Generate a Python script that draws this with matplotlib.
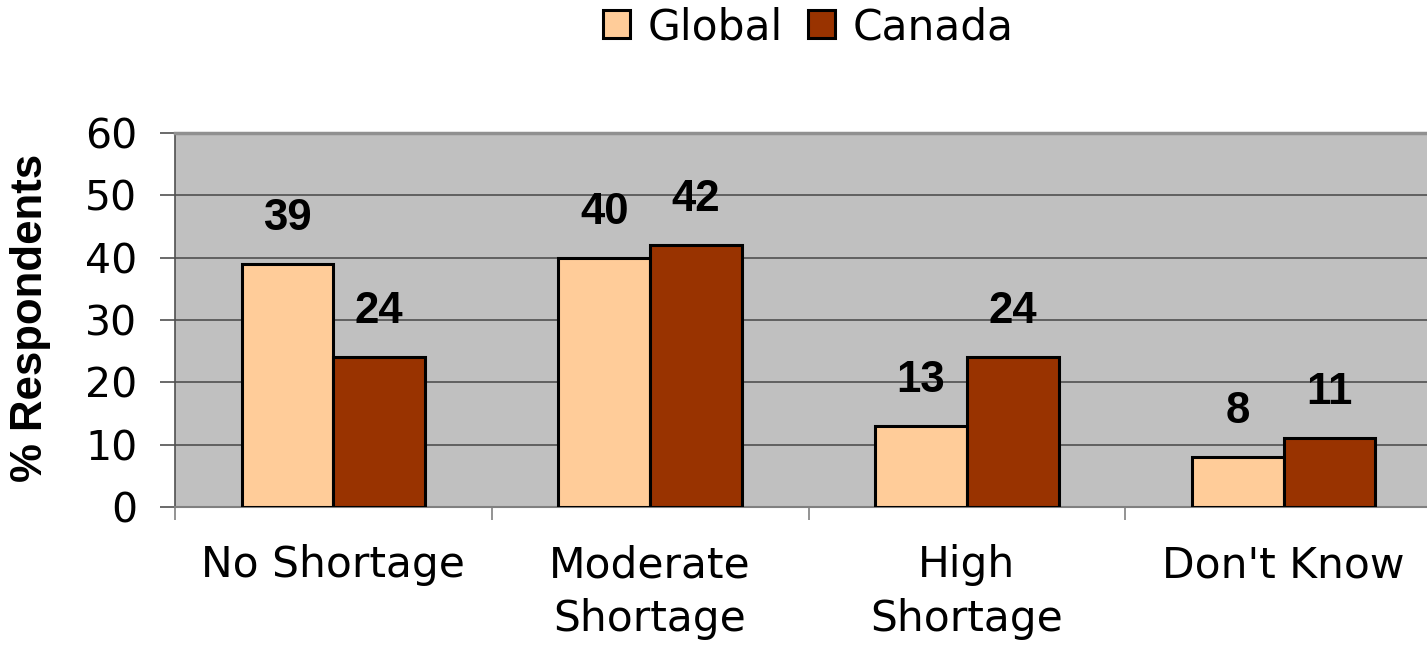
import numpy as np
import matplotlib
matplotlib.use('Agg')
import matplotlib.pyplot as plt

categories = ['No Shortage', 'Moderate\nShortage', 'High\nShortage', "Don't Know"]
global_vals = [39, 40, 13, 8]
canada_vals = [24, 42, 24, 11]
series_names = ['Global', 'Canada']
yticks = [0, 10, 20, 30, 40, 50, 60]

plt.rcParams['font.family'] = ['DejaVu Sans']

W, H = 1427, 646
fig = plt.figure(figsize=(W / 100, H / 100), dpi=100)
ax = fig.add_axes([175 / W, 139 / H, (1442 - 175) / W, 374 / H])
ax.set_facecolor('#C0C0C0')

x = np.arange(len(categories))
bw = 0.29
b1 = ax.bar(x - bw / 2, global_vals, bw, color='#FFCC99', edgecolor='black',
            linewidth=2.2, label=series_names[0], zorder=3)
b2 = ax.bar(x + bw / 2, canada_vals, bw, color='#993300', edgecolor='black',
            linewidth=2.2, label=series_names[1], zorder=3)

for bars, vals in ((b1, global_vals), (b2, canada_vals)):
    for r, v in zip(bars, vals):
        ax.annotate(str(v), (r.get_x() + r.get_width() / 2, v),
                    xytext=(0, 24.5), textcoords='offset points',
                    ha='center', va='baseline', fontsize=31.5, fontweight='bold',
                    family='Liberation Sans')

ax.set_xlim(-0.5, len(categories) - 0.5)
ax.set_ylim(0, 60)
ax.set_yticks(yticks)
ax.yaxis.grid(True, color='#505050', linewidth=1.2, zorder=0)
ax.tick_params(axis='y', labelsize=29.5, length=11, width=1.2, color='#505050', pad=16)

ax.set_xticks(x)
ax.set_xticklabels(categories, fontsize=30.5, linespacing=1.35)
ax.set_xticks(np.arange(len(categories) + 1) - 0.5, minor=True)
ax.tick_params(axis='x', which='major', length=0, pad=27)
ax.tick_params(axis='x', which='minor', length=9.5, width=1.2, color='#808080')

ax.spines['top'].set_color('#909090')
ax.spines['top'].set_linewidth(2.5)
ax.spines['left'].set_color('#505050')
ax.spines['left'].set_linewidth(1.2)
ax.spines['bottom'].set_color('#808080')
ax.spines['bottom'].set_linewidth(1.5)
ax.spines['right'].set_visible(False)

fig.text(31 / W, 1 - 318 / H, '% Respondents', rotation=90, ha='center', va='center',
         fontsize=31.5, fontweight='bold', family='Liberation Sans')

fig.legend(handles=[b1, b2], labels=series_names, loc='center',
           bbox_to_anchor=(808 / W, 1 - 27 / H), ncol=2, frameon=False,
           fontsize=30.5, handlelength=0.65, handleheight=0.65,
           handletextpad=0.4, columnspacing=0.6)

fig.savefig('out.png', dpi=100)
